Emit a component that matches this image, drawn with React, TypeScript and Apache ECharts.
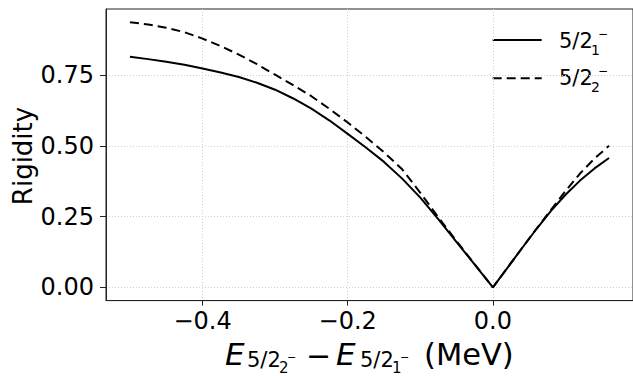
import React, { useEffect, useRef } from "react";
import * as echarts from "echarts";

const xValues = [
  -0.5, -0.475, -0.45, -0.425, -0.4, -0.375, -0.35, -0.325, -0.3, -0.275, -0.25, -0.225, -0.2,
  -0.175, -0.15, -0.125, -0.1, -0.075, -0.05, -0.025, 0, 0.02, 0.04, 0.06, 0.08, 0.1, 0.12, 0.14, 0.16,
];
const rigidity1 = [
  0.814, 0.806, 0.797, 0.786, 0.773, 0.759, 0.743, 0.7225, 0.698, 0.667, 0.631, 0.589, 0.542,
  0.494, 0.443, 0.384, 0.317, 0.24, 0.16, 0.08, 0, 0.069, 0.138, 0.206, 0.27, 0.327, 0.377, 0.42, 0.457,
];
const rigidity2 = [
  0.936, 0.9285, 0.917, 0.901, 0.8785, 0.852, 0.822, 0.788, 0.751, 0.714, 0.675, 0.63, 0.582,
  0.531, 0.477, 0.417, 0.334, 0.247, 0.163, 0.081, 0, 0.069, 0.138, 0.207, 0.274, 0.34, 0.402, 0.455, 0.5,
];
const xTicks = [-0.4, -0.2, 0.0];
const yTicks = [0, 0.25, 0.5, 0.75];
const seriesNames = ["5/2_1^-", "5/2_2^-"];

const FONT = "DejaVu Sans";

function txt(text: string, x: number, y: number, size: number, italic = false) {
  return {
    type: "text",
    x,
    y,
    silent: true,
    style: {
      text,
      fontSize: size,
      fontFamily: FONT,
      fontStyle: italic ? "italic" : "normal",
      fill: "#000",
      align: "left",
      verticalAlign: "middle",
    },
  };
}

export default function App() {
  const ref = useRef<HTMLDivElement>(null);
  useEffect(() => {
    document.body.style.margin = "0";
    if (!ref.current) return;
    const chart = echarts.init(ref.current, undefined, { renderer: "svg" });
    const fmtX = (v: number) => (v < 0 ? "\u2212" + Math.abs(v).toFixed(1) : v.toFixed(1));
    chart.setOption({
      animation: false,
      backgroundColor: "#fff",
      grid: {
        left: 106,
        top: 9,
        width: 528,
        height: 291.6,
        show: true,
        borderColor: "#222",
        borderWidth: 1,
        backgroundColor: "transparent",
      },
      xAxis: {
        type: "value",
        min: -0.533,
        max: 0.193,
        axisLine: { show: true, onZero: false, lineStyle: { color: "#222", width: 1 } },
        axisTick: { show: true, length: 5, customValues: xTicks, lineStyle: { color: "#222" } },
        axisLabel: {
          customValues: xTicks,
          formatter: fmtX,
          fontSize: 24,
          fontFamily: FONT,
          color: "#000",
          margin: 8,
        },
        splitLine: { show: true, lineStyle: { color: "#cfcfcf", type: [1, 2], width: 1 } },
      },
      yAxis: {
        type: "value",
        min: -0.0468,
        max: 0.983,
        axisLine: { show: true, onZero: false, lineStyle: { color: "#222", width: 1 } },
        axisTick: { show: true, length: 6, customValues: yTicks, lineStyle: { color: "#222" } },
        axisLabel: {
          customValues: yTicks,
          formatter: (v: number) => v.toFixed(2),
          fontSize: 24,
          fontFamily: FONT,
          color: "#000",
          margin: 12,
        },
        splitLine: { show: true, lineStyle: { color: "#cfcfcf", type: [1, 2], width: 1 } },
      },
      series: [
        {
          name: seriesNames[0],
          type: "line",
          data: xValues.map((x, i) => [x, rigidity1[i]]),
          showSymbol: false,
          lineStyle: { color: "#000", width: 2 },
          z: 3,
        },
        {
          name: seriesNames[1],
          type: "line",
          data: xValues.map((x, i) => [x, rigidity2[i]]),
          showSymbol: false,
          lineStyle: { color: "#000", width: 2, type: [9, 5] },
          z: 3,
        },
      ],
      graphic: [
        {
          type: "text",
          x: 22.5,
          y: 156,
          rotation: Math.PI / 2,
          silent: true,
          style: {
            text: "Rigidity",
            fontSize: 26,
            fontFamily: FONT,
            fill: "#000",
            align: "center",
            verticalAlign: "middle",
          },
        },
        // x-axis title
        txt("E", 225, 354, 31, true),
        txt("5/2", 247, 360, 21),
        txt("2", 279, 368, 15),
        txt("\u2212", 287, 357, 11),
        txt("\u2212", 306, 355, 30),
        txt("E", 336, 354, 31, true),
        txt("5/2", 360, 360, 21),
        txt("1", 392, 368, 15),
        txt("\u2212", 400, 357, 11),
        txt("(MeV)", 424, 354, 30.5),
        // legend
        {
          type: "line",
          silent: true,
          shape: { x1: 492.7, y1: 40, x2: 541.7, y2: 40 },
          style: { stroke: "#000", lineWidth: 2 },
        },
        {
          type: "line",
          silent: true,
          shape: { x1: 492.7, y1: 78.3, x2: 541.7, y2: 78.3 },
          style: { stroke: "#000", lineWidth: 2, lineDash: [9, 5] },
        },
        txt("5/2", 559, 40.8, 21),
        txt("1", 591, 50, 14),
        txt("\u2212", 598, 33.5, 12),
        txt("5/2", 559, 77.5, 21),
        txt("2", 591, 86.7, 14),
        txt("\u2212", 598, 71, 12),
      ],
    });
    return () => chart.dispose();
  }, []);
  return <div ref={ref} style={{ width: 633, height: 376 }} />;
}
